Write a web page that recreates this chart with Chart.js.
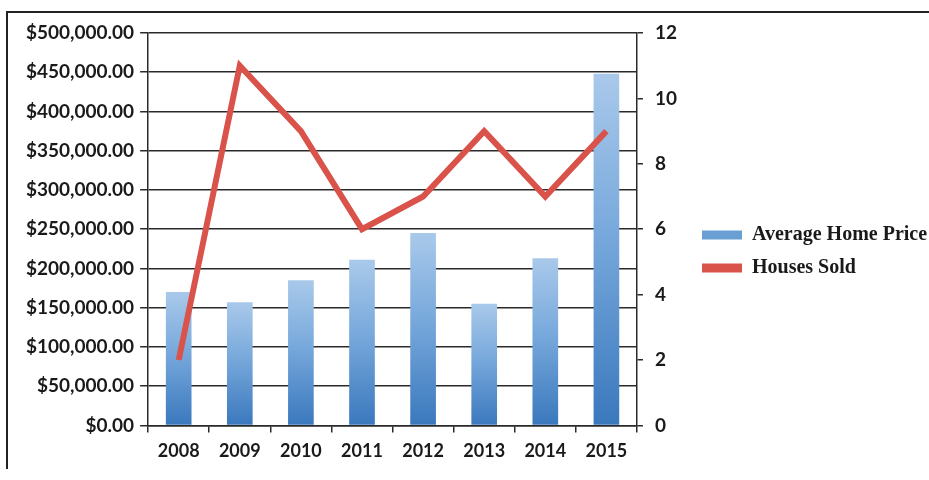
<!DOCTYPE html>
<html>
<head>
<meta charset="utf-8">
<style>
  html, body { margin: 0; padding: 0; background: #fff; }
  #wrap { position: relative; width: 929px; height: 480px; overflow: hidden; }
  #frame { position: absolute; left: 6px; top: 11px; width: 940px; height: 456px;
           border-left: 2px solid #222; border-top: 2px solid #222; }
  canvas { position: absolute; left: 0; top: 0; }
</style>
<script src="https://cdn.jsdelivr.net/npm/chart.js@4"></script>
</head>
<body>
<div id="wrap">
  <div id="frame"></div>
  <canvas id="chart" width="929" height="480"></canvas>
</div>
<script>
// data
const years = ['2008', '2009', '2010', '2011', '2012', '2013', '2014', '2015'];
const avgPrice = [170000, 157000, 185000, 211000, 245000, 155000, 213000, 448000];
const housesSold = [2, 11, 9, 6, 7, 9, 7, 9];

const gridColor = '#2a2a2a';
const xFont = { family: 'Lato', size: 18, weight: 'bold' };
const yFont = { family: 'Lato', size: 19, weight: 'bold' };

// each bar gets its own light-top / dark-bottom gradient, like Excel
function barGradient(ctx) {
  const chart = ctx.chart;
  if (!chart.chartArea || ctx.type !== 'data') return '#6a9fd4';
  const y = chart.scales.y;
  const top = y.getPixelForValue(ctx.raw);
  const base = y.getPixelForValue(0);
  const g = chart.ctx.createLinearGradient(0, top, 0, base);
  g.addColorStop(0, '#a9c9ea');
  g.addColorStop(0.45, '#78a9dc');
  g.addColorStop(1, '#3a78bd');
  return g;
}

new Chart(document.getElementById('chart'), {
  data: {
    labels: years,
    datasets: [
      {
        type: 'line',
        label: 'Houses Sold',
        data: housesSold,
        yAxisID: 'y1',
        borderColor: '#d9534a',
        backgroundColor: '#d9534a',
        borderWidth: 6,
        pointRadius: 0,
        tension: 0,
        order: 0
      },
      {
        type: 'bar',
        label: 'Average Home Price',
        data: avgPrice,
        yAxisID: 'y',
        backgroundColor: barGradient,
        barPercentage: 0.42,
        categoryPercentage: 1,
        order: 1
      }
    ]
  },
  options: {
    responsive: false,
    animation: false,
    layout: { padding: { left: 20, top: 33, right: 0, bottom: 10 } },
    plugins: {
      tooltip: { enabled: false },
      legend: {
        position: 'right',
        reverse: true,
        maxWidth: 240,
        labels: {
          font: { family: 'Liberation Serif', size: 20, weight: 'bold' },
          color: '#1a1a1a',
          boxWidth: 40,
          boxHeight: 9,
          padding: 13,
          generateLabels(chart) {
            const items = Chart.defaults.plugins.legend.labels.generateLabels(chart);
            items.forEach(it => {
              if (it.text === 'Average Home Price') {
                it.fillStyle = '#6a9fd4';
                it.strokeStyle = '#6a9fd4';
              } else {
                it.fillStyle = '#d9534a';
                it.strokeStyle = '#d9534a';
              }
              it.lineWidth = 0;
            });
            return items;
          }
        }
      }
    },
    scales: {
      x: {
        grid: { display: true, drawOnChartArea: false, color: gridColor, lineWidth: 1.5, tickLength: 7, offset: true },
        border: { color: gridColor, width: 1.5 },
        ticks: { font: xFont, color: '#1a1a1a', padding: 8 }
      },
      y: {
        position: 'left',
        min: 0,
        max: 500000,
        grid: { color: gridColor, lineWidth: 1.5, tickLength: 8 },
        border: { color: gridColor, width: 1.5 },
        ticks: {
          stepSize: 50000,
          font: yFont,
          color: '#1a1a1a',
          padding: 6,
          callback: v => '$' + v.toLocaleString('en-US', { minimumFractionDigits: 2, maximumFractionDigits: 2 })
        }
      },
      y1: {
        position: 'right',
        min: 0,
        max: 12,
        grid: { drawOnChartArea: false, color: gridColor, lineWidth: 1.5, tickLength: 6 },
        border: { color: gridColor, width: 1.5 },
        ticks: { stepSize: 2, font: yFont, color: '#1a1a1a', padding: 12 }
      }
    }
  }
});
</script>
</body>
</html>
